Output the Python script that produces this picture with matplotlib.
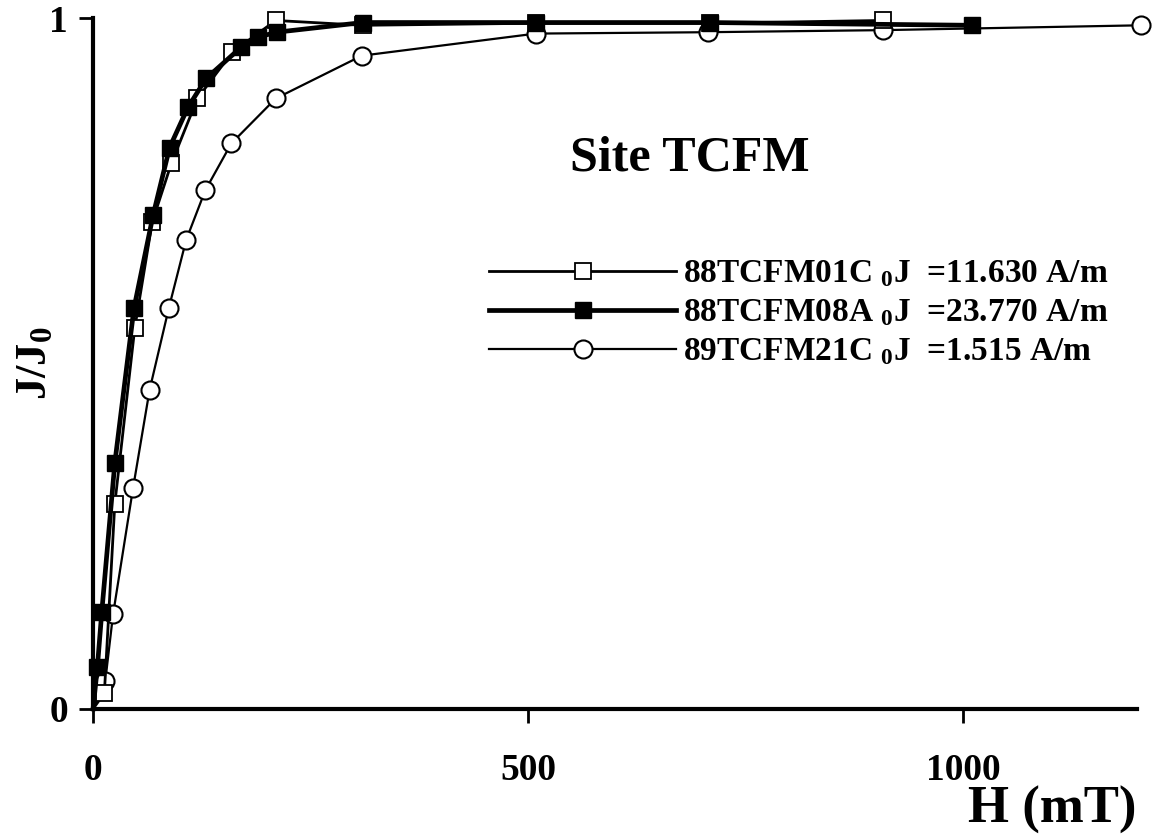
import matplotlib
matplotlib.use("Agg")
import matplotlib.pyplot as plt

plt.rcParams['font.family'] = ['Liberation Serif', 'DejaVu Serif']
plt.rcParams['font.weight'] = 'bold'
plt.rcParams['axes.labelweight'] = 'bold'
plt.rcParams['mathtext.fontset'] = 'custom'
plt.rcParams['mathtext.rm'] = 'Liberation Serif:bold'
plt.rcParams['mathtext.bf'] = 'Liberation Serif:bold'
plt.rcParams['mathtext.it'] = 'Liberation Serif:bold'

# 88TCFM01C (open squares)
h_01c = [0, 13, 25, 48, 68, 90, 120, 160, 210, 310, 509, 709, 908]
j_01c = [0, 0.023, 0.297, 0.552, 0.705, 0.790, 0.884, 0.951, 0.997, 0.990, 0.993, 0.993, 0.997]

# 88TCFM08A (filled squares)
h_08a = [0, 5, 10, 25, 47, 69, 88, 109, 130, 170, 190, 211, 310, 509, 709, 1010]
j_08a = [0, 0.061, 0.140, 0.356, 0.580, 0.715, 0.813, 0.871, 0.913, 0.958, 0.973, 0.980, 0.994, 0.994, 0.994, 0.990]

# 89TCFM21C (open circles)
h_21c = [0, 14, 23, 46, 65, 87, 107, 129, 159, 210, 309, 509, 707, 908, 1205]
j_21c = [0, 0.040, 0.137, 0.320, 0.462, 0.580, 0.679, 0.751, 0.819, 0.884, 0.946, 0.978, 0.980, 0.983, 0.990]

labels = ["88TCFM01C $_0$J  =11.630 A/m",
          "88TCFM08A $_0$J  =23.770 A/m",
          "89TCFM21C $_0$J  =1.515 A/m"]

fig = plt.figure(figsize=(11.56, 8.36), dpi=100)
ax = fig.add_axes([0.0805, 0.152, 0.903, 0.826])

# origin is the common start, drawn without a marker
ax.plot(h_01c, j_01c, color='black', lw=2.0, marker='s', ms=11, markevery=slice(1, None),
        mfc='white', mec='black', mew=1.3, label=labels[0], clip_on=False, zorder=3)
ax.plot(h_08a, j_08a, color='black', lw=3.4, marker='s', ms=11, markevery=slice(1, None),
        mfc='black', mec='black', label=labels[1], clip_on=False, zorder=4)
ax.plot(h_21c, j_21c, color='black', lw=1.6, marker='o', ms=13, markevery=slice(1, None),
        mfc='white', mec='black', mew=1.5, label=labels[2], clip_on=False, zorder=2)

ax.set_xlim(0, 1200)
ax.set_ylim(0, 1)
ax.set_xticks([0, 500, 1000])
ax.set_yticks([0, 1])
ax.set_yticklabels(['0', '1'])

for s in ['top', 'right']:
    ax.spines[s].set_visible(False)
for s in ['left', 'bottom']:
    ax.spines[s].set_linewidth(3)

ax.tick_params(axis='x', direction='out', length=10, width=2, labelsize=27, pad=22)
ax.tick_params(axis='y', direction='out', length=10, width=2, labelsize=27, pad=8)

ax.set_xlabel('H (mT)', fontsize=38, loc='right')
ax.xaxis.label.set_va('baseline')
ax.xaxis.set_label_coords(1.0, -0.165)
ax.set_ylabel('J/J$_0$', fontsize=32)
ax.yaxis.set_label_coords(-0.036, 0.5)

ax.text(0.572, 0.797, 'Site TCFM', transform=ax.transAxes, fontsize=36,
        ha='center', va='center')

leg = ax.legend(loc='upper left', bbox_to_anchor=(0.367, 0.672), frameon=False,
                fontsize=24, handlelength=5.6, handletextpad=0.2,
                labelspacing=0.24, borderaxespad=0)

fig.savefig('out.png', dpi=100)
